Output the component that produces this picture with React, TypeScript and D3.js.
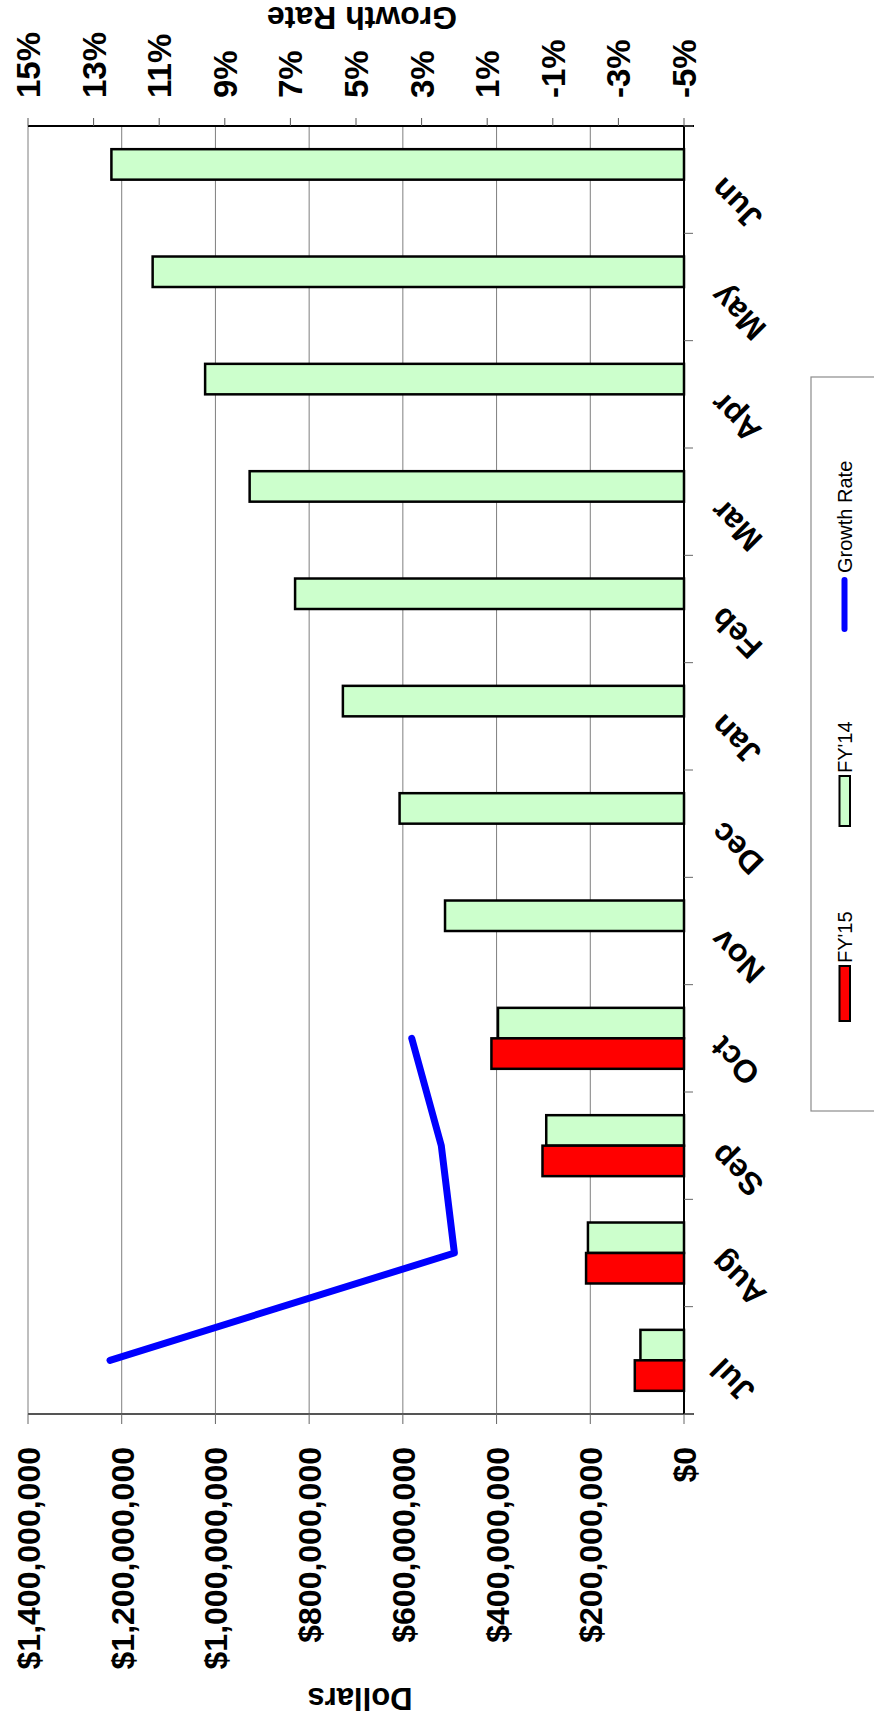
import React from 'react';
import * as d3 from 'd3';

// Monthly revenue, FY'14 vs FY'15, with the FY'15 growth rate
const months = ['Jul', 'Aug', 'Sep', 'Oct', 'Nov', 'Dec', 'Jan', 'Feb', 'Mar', 'Apr', 'May', 'Jun'];
const fy14Values = [93e6, 205e6, 294e6, 397e6, 510e6, 607e6, 728e6, 830e6, 927e6, 1022e6, 1134e6, 1222e6];
const fy15Values = [105e6, 209e6, 302e6, 411e6];
const growthRates = [12.5, 2.0, 2.4, 3.3];

const dollarTicks = [0, 2e8, 4e8, 6e8, 8e8, 1e9, 1.2e9, 1.4e9];
const growthTicks = [-5, -3, -1, 1, 3, 5, 7, 9, 11, 13, 15];
const seriesKeys = ["FY'14", "FY'15"];

const W = 874;
const H = 1722;
const plot = { left: 28, right: 684, top: 126, bottom: 1414 };
const FONT = "'Liberation Sans', Arial, Helvetica, sans-serif";

const COLORS: Record<string, string> = { "FY'14": '#CCFFCC', "FY'15": '#FF0000' };
const LINE_COLOR = '#0000FF';

export default function App() {
  // value axes run right-to-left, months run bottom-to-top
  const xDollar = d3.scaleLinear().domain([0, 1.4e9]).range([plot.right, plot.left]);
  const xGrowth = d3.scaleLinear().domain([-5, 15]).range([plot.right, plot.left]);
  const yMonth = d3
    .scaleBand<string>()
    .domain(months)
    .range([plot.bottom, plot.top])
    .paddingInner(0.432)
    .paddingOuter(0.216);
  const ySeries = d3.scaleBand<string>().domain(seriesKeys).range([0, yMonth.bandwidth()]);

  const step = yMonth.step();
  const center = (m: string) => (yMonth(m) as number) + yMonth.bandwidth() / 2;
  const boundaries = d3.range(months.length + 1).map((i) => plot.bottom - i * step);

  const barData: { month: string; key: string; value: number }[] = [];
  months.forEach((m, i) => {
    barData.push({ month: m, key: "FY'14", value: fy14Values[i] });
    if (i < fy15Values.length) barData.push({ month: m, key: "FY'15", value: fy15Values[i] });
  });

  const growthPoints = growthRates.map((g, i) => [xGrowth(g), center(months[i])] as [number, number]);
  const linePath = d3.line()(growthPoints) as string;

  const fmtDollar = d3.format('$,.0f');
  const fmtPct = (v: number) => `${v}%`;

  const legendItems = [
    { label: 'Growth Rate', kind: 'line', y0: 580, y1: 629, textY: 573 },
    { label: "FY'14", kind: 'rect', y0: 776, y1: 826, textY: 773 },
    { label: "FY'15", kind: 'rect', y0: 966, y1: 1021, textY: 963 },
  ];

  return (
    <svg
      width={W}
      height={H}
      viewBox={`0 0 ${W} ${H}`}
      style={{ position: 'absolute', left: 0, top: 0, display: 'block', background: '#fff' }}
      fontFamily={FONT}
    >
      <rect x={0} y={0} width={W} height={H} fill="#fff" />

      {/* dollar gridlines */}
      {dollarTicks.map((t) => (
        <line
          key={`g${t}`}
          x1={xDollar(t)}
          x2={xDollar(t)}
          y1={plot.top}
          y2={plot.bottom}
          stroke="#7f7f7f"
          strokeWidth={1}
        />
      ))}

      {/* bars */}
      {barData.map((d) => {
        const y = (yMonth(d.month) as number) + (ySeries(d.key) as number);
        const x = xDollar(d.value);
        return (
          <rect
            key={`${d.key}-${d.month}`}
            x={x}
            y={y}
            width={xDollar(0) - x}
            height={ySeries.bandwidth()}
            fill={COLORS[d.key]}
            stroke="#000"
            strokeWidth={2.5}
          />
        );
      })}

      {/* growth rate line */}
      <path
        d={linePath}
        fill="none"
        stroke={LINE_COLOR}
        strokeWidth={7}
        strokeLinecap="round"
        strokeLinejoin="round"
      />

      {/* dollar axis (bottom) */}
      <line x1={plot.left} x2={plot.right + 10} y1={plot.bottom} y2={plot.bottom} stroke="#555" strokeWidth={2} />
      {dollarTicks.map((t) => (
        <line
          key={`dt${t}`}
          x1={xDollar(t)}
          x2={xDollar(t)}
          y1={plot.bottom}
          y2={plot.bottom + 10}
          stroke="#666"
          strokeWidth={1}
        />
      ))}
      {dollarTicks.map((t) => (
        <text
          key={`dl${t}`}
          transform={`translate(${xDollar(t) + 12},1447) rotate(-90)`}
          textAnchor="end"
          fontSize={32}
          fontWeight="bold"
          fill="#000"
        >
          {fmtDollar(t)}
        </text>
      ))}
      <text
        transform={`translate(360,1688) rotate(180)`}
        textAnchor="middle"
        fontSize={31}
        fontWeight="bold"
        fill="#000"
      >
        Dollars
      </text>

      {/* growth rate axis (top) */}
      <line x1={plot.left} x2={plot.right + 10} y1={plot.top} y2={plot.top} stroke="#000" strokeWidth={2} />
      {growthTicks.map((t) => (
        <line
          key={`gt${t}`}
          x1={xGrowth(t)}
          x2={xGrowth(t)}
          y1={plot.top}
          y2={plot.top - 8}
          stroke="#555"
          strokeWidth={1}
        />
      ))}
      {growthTicks.map((t) => (
        <text
          key={`gl${t}`}
          transform={`translate(${xGrowth(t) + 12},98) rotate(-90)`}
          textAnchor="start"
          fontSize={33}
          fontWeight="bold"
          fill="#000"
        >
          {fmtPct(t)}
        </text>
      ))}
      <text
        transform={`translate(362,7) rotate(180)`}
        textAnchor="middle"
        fontSize={32}
        fontWeight="bold"
        fill="#000"
      >
        Growth Rate
      </text>

      {/* month axis (right) */}
      <line x1={plot.right} x2={plot.right} y1={plot.top} y2={plot.bottom} stroke="#000" strokeWidth={2} />
      {boundaries.map((b, i) => (
        <line key={`mt${i}`} x1={plot.right} x2={plot.right + 9} y1={b} y2={b} stroke="#666" strokeWidth={1} />
      ))}
      {months.map((m) => (
        <text
          key={`ml${m}`}
          transform={`translate(${plot.right + 40},${center(m) - 4}) rotate(-135)`}
          textAnchor="end"
          fontSize={32}
          fontWeight="bold"
          fill="#000"
        >
          {m}
        </text>
      ))}

      {/* legend */}
      <rect x={811} y={377} width={80} height={734} fill="#fff" stroke="#8c8c8c" strokeWidth={1.2} />
      {legendItems.map((it) => (
        <g key={it.label}>
          {it.kind === 'line' ? (
            <line
              x1={844.5}
              x2={844.5}
              y1={it.y0}
              y2={it.y1}
              stroke={LINE_COLOR}
              strokeWidth={6}
              strokeLinecap="round"
            />
          ) : (
            <rect
              x={839.5}
              y={it.y0}
              width={10.5}
              height={it.y1 - it.y0}
              fill={COLORS[it.label]}
              stroke="#000"
              strokeWidth={2}
            />
          )}
          <text
            transform={`translate(851.5,${it.textY}) rotate(-90)`}
            textAnchor="start"
            fontSize={20}
            fill="#000"
          >
            {it.label}
          </text>
        </g>
      ))}
    </svg>
  );
}
